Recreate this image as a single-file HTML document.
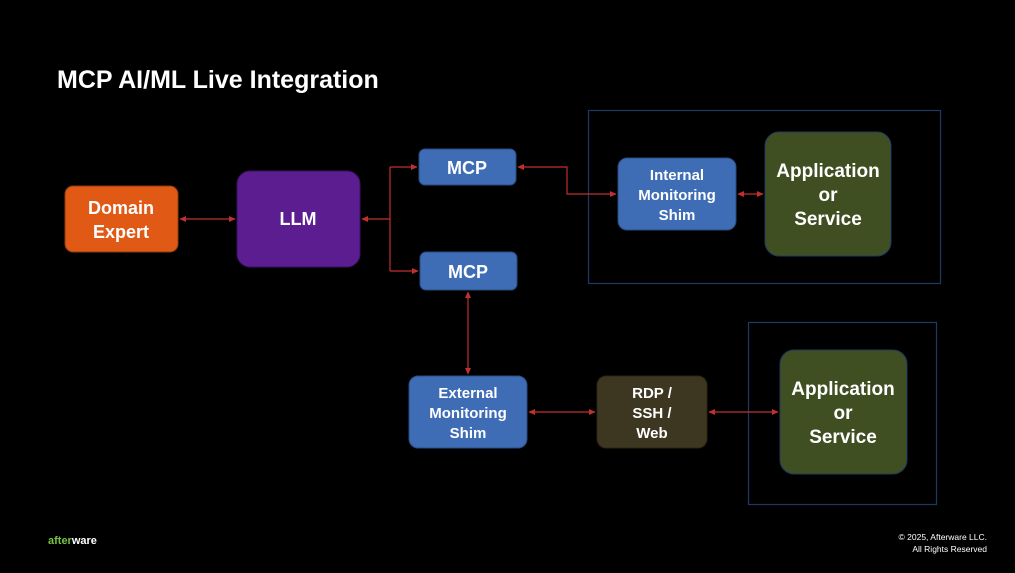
<!DOCTYPE html>
<html><head><style>
body{margin:0;background:#000;width:1015px;height:568px;overflow:hidden}
svg text{font-family:"Liberation Sans",sans-serif;fill:#fff;font-weight:bold;text-anchor:middle}
</style></head><body>
<svg width="1015" height="568" viewBox="0 0 1015 568" xmlns="http://www.w3.org/2000/svg">
<defs>
<marker id="a" markerWidth="6" markerHeight="6" refX="5" refY="3" orient="auto-start-reverse"><path d="M0,0.5 L5.5,3 L0,5.5z" fill="#C0302F"/></marker>
</defs>
<rect width="1015" height="568" fill="#000"/>
<text x="57" y="88" style="text-anchor:start;font-size:25px">MCP AI/ML Live Integration</text>
<rect x="588.5" y="110.5" width="352" height="173" fill="none" stroke="#1F3864" stroke-width="1.2"/>
<rect x="748.5" y="322.5" width="188" height="182" fill="none" stroke="#1F3864" stroke-width="1.2"/>
<g fill="none" stroke="#C0302F" stroke-width="1.2">
<path d="M180,219 H235" marker-start="url(#a)" marker-end="url(#a)"/>
<path d="M362,219 H390" marker-start="url(#a)"/>
<path d="M390,167 V271"/>
<path d="M390,167 H417" marker-end="url(#a)"/>
<path d="M390,271 H418" marker-end="url(#a)"/>
<path d="M518,167 H567 V194 H616" marker-start="url(#a)" marker-end="url(#a)"/>
<path d="M468,292 V374" marker-start="url(#a)" marker-end="url(#a)"/>
<path d="M529,412 H595" marker-start="url(#a)" marker-end="url(#a)"/>
<path d="M709,412 H778" marker-start="url(#a)" marker-end="url(#a)"/>
<path d="M738,194 H763" marker-start="url(#a)" marker-end="url(#a)"/>
</g>
<rect x="65" y="186" width="113" height="66" rx="8" fill="#E05A16" stroke="#8a3a10"/>
<text x="121" y="214" font-size="18">Domain</text><text x="121" y="238" font-size="18">Expert</text>
<rect x="237" y="171" width="123" height="96" rx="13" fill="#5B1D8F" stroke="#3a1260"/>
<text x="298" y="225" font-size="18">LLM</text>
<rect x="419" y="149" width="97" height="36" rx="6" fill="#3E6DB5" stroke="#2a4a80"/>
<text x="467" y="174" font-size="18">MCP</text>
<rect x="420" y="252" width="97" height="38" rx="6" fill="#3E6DB5" stroke="#2a4a80"/>
<text x="468" y="278" font-size="18">MCP</text>
<rect x="618" y="158" width="118" height="72" rx="9" fill="#3E6DB5" stroke="#2a4a80"/>
<text x="677" y="180" font-size="15">Internal</text><text x="677" y="200" font-size="15">Monitoring</text><text x="677" y="220" font-size="15">Shim</text>
<rect x="765" y="132" width="126" height="124" rx="14" fill="#3F4F22" stroke="#1F3864"/>
<text x="828" y="177" font-size="19">Application</text><text x="828" y="201" font-size="19">or</text><text x="828" y="225" font-size="19">Service</text>
<rect x="409" y="376" width="118" height="72" rx="9" fill="#3E6DB5" stroke="#2a4a80"/>
<text x="468" y="398" font-size="15">External</text><text x="468" y="418" font-size="15">Monitoring</text><text x="468" y="438" font-size="15">Shim</text>
<rect x="597" y="376" width="110" height="72" rx="9" fill="#3D3620" stroke="#2a2515"/>
<text x="652" y="398" font-size="15">RDP /</text><text x="652" y="418" font-size="15">SSH /</text><text x="652" y="438" font-size="15">Web</text>
<rect x="780" y="350" width="127" height="124" rx="14" fill="#3F4F22" stroke="#1F3864"/>
<text x="843" y="395" font-size="19">Application</text><text x="843" y="419" font-size="19">or</text><text x="843" y="443" font-size="19">Service</text>
<text x="48" y="544" style="text-anchor:start;font-size:11px"><tspan fill="#7AC143">after</tspan><tspan>ware</tspan></text>
<text x="987" y="540" style="text-anchor:end;font-size:8.5px;font-weight:normal">© 2025, Afterware LLC.</text>
<text x="987" y="552" style="text-anchor:end;font-size:8.5px;font-weight:normal">All Rights Reserved</text>
</svg>
</body></html>
